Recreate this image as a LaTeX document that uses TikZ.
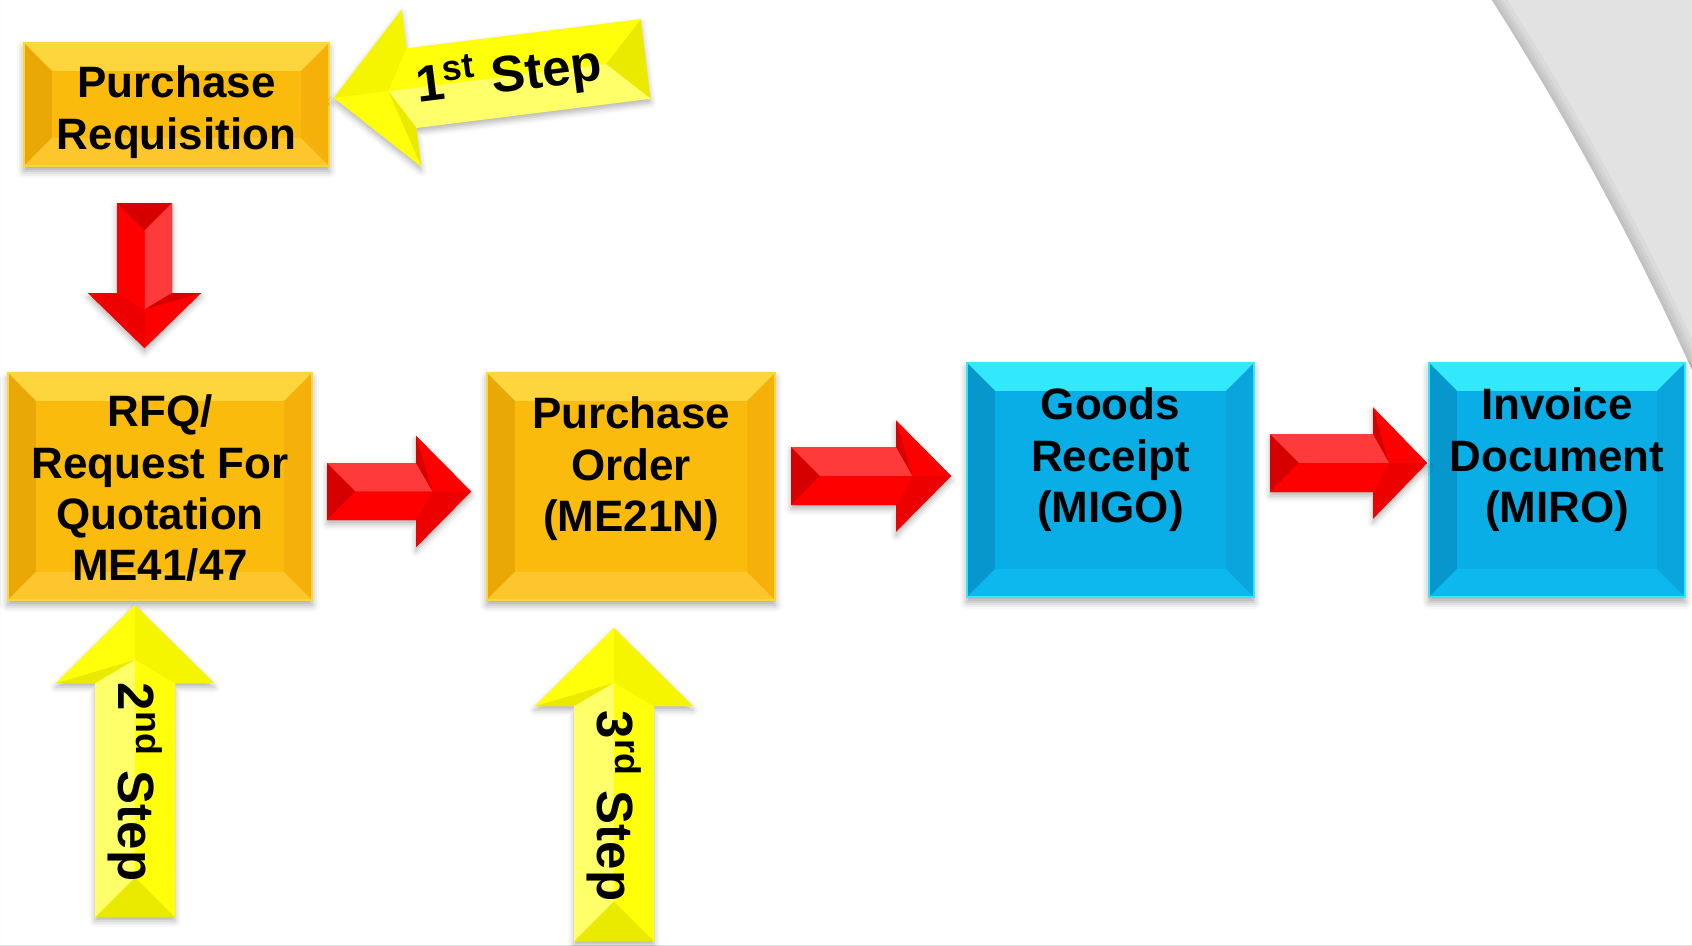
\documentclass[tikz,border=0pt]{standalone}
\usepackage{fontspec}
\setmainfont{Liberation Sans}
\usetikzlibrary{calc,shadows.blur}

% box colours (face + four bevel facets)
\definecolor{Obase}{HTML}{FABB0C}
\definecolor{Otop}{HTML}{FDD63E}
\definecolor{Oleft}{HTML}{EAA807}
\definecolor{Obot}{HTML}{FCC62C}
\definecolor{Oright}{HTML}{F5B10A}
\definecolor{Bbase}{HTML}{09AEE6}
\definecolor{Btop}{HTML}{32E8FB}
\definecolor{Bleft}{HTML}{0797CD}
\definecolor{Bbot}{HTML}{0CB8EE}
\definecolor{Bright}{HTML}{0AA5DC}
% block arrow colours
\definecolor{Rbase}{HTML}{FF0000}
\definecolor{Rlight}{HTML}{FF3A3A}
\definecolor{Rdark}{HTML}{D60000}
\definecolor{Rmid}{HTML}{EC0000}
\definecolor{Ybase}{HTML}{FFFF0A}
\definecolor{Ylight}{HTML}{FFFF6A}
\definecolor{Ydark}{HTML}{EAEA00}
\definecolor{Ymid}{HTML}{F5F500}
\definecolor{backgray}{HTML}{E2E2E2}

\newcommand\bevw{0.28cm}

\tikzset{
  bevel/.style n args={4}{path picture={
    \fill[#1] (path picture bounding box.north west) -- (path picture bounding box.north east)
      -- ([shift={(-\bevw,-\bevw)}]path picture bounding box.north east)
      -- ([shift={(\bevw,-\bevw)}]path picture bounding box.north west) -- cycle;
    \fill[#2] (path picture bounding box.north west) -- (path picture bounding box.south west)
      -- ([shift={(\bevw,\bevw)}]path picture bounding box.south west)
      -- ([shift={(\bevw,-\bevw)}]path picture bounding box.north west) -- cycle;
    \fill[#3] (path picture bounding box.south west) -- (path picture bounding box.south east)
      -- ([shift={(-\bevw,\bevw)}]path picture bounding box.south east)
      -- ([shift={(\bevw,\bevw)}]path picture bounding box.south west) -- cycle;
    \fill[#4] (path picture bounding box.south east) -- (path picture bounding box.north east)
      -- ([shift={(-\bevw,-\bevw)}]path picture bounding box.north east)
      -- ([shift={(-\bevw,\bevw)}]path picture bounding box.south east) -- cycle;
  }},
  boxshadow/.style={blur shadow={shadow xshift=0pt,shadow yshift=-0.05cm,
      shadow blur radius=0.07cm,shadow opacity=35}},
  orangebox/.style={fill=Obase, draw=Otop, line width=0.4pt, inner sep=0pt,
      outer sep=0pt, boxshadow, bevel={Otop}{Oleft}{Obot}{Oright}},
  bluebox/.style={fill=Bbase, draw=Btop, line width=0.4pt, inner sep=0pt,
      outer sep=0pt, boxshadow, bevel={Btop}{Bleft}{Bbot}{Bright}},
  boxtext/.style={anchor=north, inner sep=0pt, align=center,
      font=\bfseries\fontsize{12.5}{14.6}\selectfont},
  steptext/.style={inner sep=0pt, font=\bfseries\fontsize{14.5}{17}\selectfont},
}

% bevelled block arrow, tail at the local origin pointing along +x
% #1 placement, #2 length, #3 head length, #4 head half-width,
% #5 shaft half-width, #6 colour prefix, #7 extra content (label)
\newcommand\blockarrow[7]{%
\begin{scope}[#1]
  \pgfmathsetmacro\aL{#2}
  \pgfmathsetmacro\aB{#2-#3}
  \pgfmathsetmacro\aH{#4}
  \pgfmathsetmacro\aw{#5}
  \pgfmathsetmacro\aT{#5}
  \pgfmathsetmacro\aJ{#2-#3+0.3*#3}
  \fill[#6base, blur shadow={shadow xshift=0pt,shadow yshift=-0.04cm,
      shadow blur radius=0.06cm,shadow opacity=30}]
    (0,\aw) -- (\aB,\aw) -- (\aB,\aH) -- (\aL,0) -- (\aB,-\aH) -- (\aB,-\aw) -- (0,-\aw) -- cycle;
  \fill[#6dark] (0,\aw) -- (\aT,0) -- (0,-\aw) -- cycle;
  \fill[#6light] (0,\aw) -- (\aB,\aw) -- (\aJ,0) -- (\aT,0) -- cycle;
  \fill[#6base] (0,-\aw) -- (\aB,-\aw) -- (\aJ,0) -- (\aT,0) -- cycle;
  \fill[#6dark] (\aB,\aw) -- (\aB,\aH) -- (\aJ,0) -- cycle;
  \fill[#6mid] (\aB,-\aw) -- (\aB,-\aH) -- (\aJ,0) -- cycle;
  \fill[#6base] (\aB,\aH) -- (\aL,0) -- (\aJ,0) -- cycle;
  \fill[#6mid] (\aB,-\aH) -- (\aL,0) -- (\aJ,0) -- cycle;
  #7
\end{scope}}

\begin{document}
\begin{tikzpicture}[x=0.01cm, y=0.01cm]
\useasboundingbox (0,0) rectangle (1692,945);

% grey backdrop outside the large white disc
\begin{scope}
  \clip (0,0) rectangle (1692,945);
  \fill[backgray, even odd rule] (0,0) rectangle (1692,945) (-1042,-662) circle (3000);
  \foreach \w in {0.03,0.06,0.09,0.13}
    \draw[black, opacity=0.035, line width=\w cm] (-1042,-662) circle (3000+\w*50);
\end{scope}

% process boxes
\node[orangebox, minimum width=3.05cm, minimum height=1.23cm] (pr)  at (176.5,840.5) {};
\node[orangebox, minimum width=3.04cm, minimum height=2.27cm] (rfq) at (160,458.5) {};
\node[orangebox, minimum width=2.88cm, minimum height=2.27cm] (po)  at (631,458.5) {};
\node[bluebox,   minimum width=2.87cm, minimum height=2.34cm] (gr)  at (1110.5,465) {};
\node[bluebox,   minimum width=2.56cm, minimum height=2.34cm] (inv) at (1557,465) {};

\node[boxtext] at ([yshift=-0.19cm]pr.north)  {\rule{0pt}{10pt}Purchase\\Requisition};
\node[boxtext] at ([yshift=-0.18cm]rfq.north) {\rule{0pt}{10pt}RFQ/\\Request For\\Quotation\\ME41/47};
\node[boxtext] at ([yshift=-0.20cm]po.north)  {\rule{0pt}{10pt}Purchase\\Order\\(ME21N)};
\node[boxtext] at ([yshift=-0.21cm]gr.north)  {\rule{0pt}{10pt}Goods\\Receipt\\(MIGO)};
\node[boxtext] at ([yshift=-0.21cm]inv.north) {\rule{0pt}{10pt}Invoice\\Document\\(MIRO)};

% red flow arrows between the boxes
\blockarrow{shift={($(pr.south)+(-32,-37)$)}, rotate=-90}{145}{55}{56.5}{27.5}{R}{}
\blockarrow{shift={($(rfq.east)+(15,-5)$)}}{144}{55}{55.5}{28.5}{R}{}
\blockarrow{shift={($(po.east)+(16,10.5)$)}}{160}{55}{55.5}{29}{R}{}
\blockarrow{shift={($(gr.east)+(16,17)$)}}{157}{54}{55.5}{29}{R}{}

% yellow step arrows
\blockarrow{shift={($(pr.east)+(316.5,45.5)$)}, rotate=187.1}{314}{78}{79}{40}{Y}
  {\node[steptext, rotate=7.1] (s1) at (138,0) {1\textsuperscript{st} Step};}
\blockarrow{shift={($(rfq.south)+(-25,-317)$)}, rotate=90}{312}{78}{79}{40}{Y}
  {\node[steptext, rotate=-90] (s2) at (135,0) {2\textsuperscript{nd} Step};}
\blockarrow{shift={($(po.south)+(-17,-341)$)}, rotate=90}{313}{78}{79}{40}{Y}
  {\node[steptext, rotate=-90] (s3) at (135,0) {3\textsuperscript{rd} Step};}

\end{tikzpicture}
\end{document}
